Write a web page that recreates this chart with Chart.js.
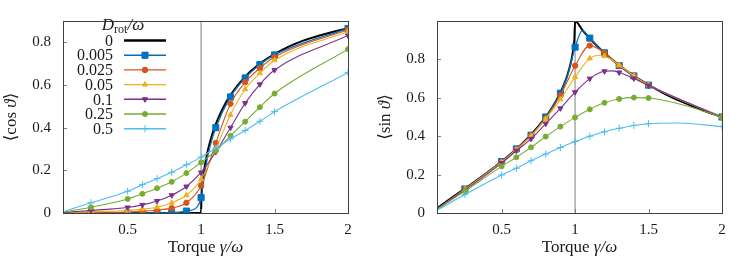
<!DOCTYPE html>
<html>
<head>
<meta charset="utf-8">
<script src="https://cdn.jsdelivr.net/npm/chart.js@4/dist/chart.umd.min.js"></script>
<style>
  html, body { margin: 0; padding: 0; background: #fff; }
  #wrap { display: flex; width: 748px; height: 262px; }
  canvas { display: block; }
</style>
</head>
<body>
<div id="wrap">
  <canvas id="cosChart" width="374" height="262"></canvas>
  <canvas id="sinChart" width="374" height="262"></canvas>
</div>
<script>
// ---------- DATA ----------
const xTicks = [0.5, 1, 1.5, 2];
const yTicks = [0, 0.2, 0.4, 0.6, 0.8];
const seriesLabels = ['0', '0.005', '0.025', '0.05', '0.1', '0.25', '0.5'];
const xStart = 0.06;
const gamma = [0.25, 0.5, 0.6, 0.7, 0.8, 0.9, 1.0, 1.1, 1.2, 1.3, 1.4, 1.5, 2.0];

// D = 0 (deterministic curve, no markers)
const gammaCos0 = [0.06, 0.5, 1.0, 1.002, 1.005, 1.01, 1.02, 1.04, 1.07, 1.1, 1.15, 1.2, 1.3, 1.4, 1.5, 1.6, 1.7, 1.8, 1.9, 2.0];
const cos0      = [0, 0, 0, 0.063, 0.10, 0.14, 0.197, 0.275, 0.356, 0.417, 0.494, 0.553, 0.639, 0.700, 0.745, 0.781, 0.809, 0.831, 0.850, 0.866];
const gammaSin0 = [0.06, 0.25, 0.4, 0.5, 0.6, 0.7, 0.8, 0.85, 0.9, 0.93, 0.95, 0.97, 0.98, 0.99, 0.995, 1.0, 1.05, 1.1, 1.15, 1.2, 1.3, 1.4, 1.5, 1.6, 1.7, 1.8, 1.9, 2.0];
const sin0      = [0.025, 0.127, 0.209, 0.268, 0.333, 0.408, 0.5, 0.557, 0.627, 0.68, 0.724, 0.78, 0.817, 0.868, 0.905, 1.0, 0.952, 0.909, 0.87, 0.833, 0.769, 0.714, 0.667, 0.625, 0.588, 0.556, 0.526, 0.5];

// <cos> at gamma points
const cosD005 = [0, 0, 0, 0, 0.001, 0.009, 0.072, 0.40, 0.544, 0.633, 0.696, 0.741, 0.865];
const cosD025 = [0.003, 0.005, 0.009, 0.014, 0.023, 0.048, 0.128, 0.328, 0.512, 0.613, 0.679, 0.731, 0.859];
const cosD05  = [0.006, 0.012, 0.018, 0.027, 0.048, 0.083, 0.158, 0.30, 0.46, 0.58, 0.655, 0.716, 0.851];
const cosD1   = [0.012, 0.026, 0.038, 0.056, 0.083, 0.124, 0.19, 0.286, 0.40, 0.515, 0.603, 0.67, 0.832];
const cosD25  = [0.027, 0.066, 0.09, 0.116, 0.146, 0.187, 0.237, 0.291, 0.362, 0.428, 0.496, 0.56, 0.768];
const cosD5   = [0.048, 0.102, 0.133, 0.161, 0.191, 0.226, 0.262, 0.304, 0.347, 0.387, 0.43, 0.475, 0.658];
const cosStart = [0, 0, 0.001, 0.002, 0.004, 0.006];
const cosExtra = [[[0.96, 0.02], [0.98, 0.035], [1.03, 0.21], [1.06, 0.31]], [], [], [], [], []];

// <sin> at gamma points
const sinD005 = [0.125, 0.268, 0.334, 0.405, 0.5, 0.624, 0.864, 0.911, 0.834, 0.768, 0.714, 0.666, 0.5];
const sinD025 = [0.124, 0.266, 0.332, 0.403, 0.493, 0.612, 0.767, 0.872, 0.834, 0.768, 0.714, 0.666, 0.5];
const sinD05  = [0.123, 0.265, 0.33, 0.40, 0.49, 0.592, 0.708, 0.805, 0.817, 0.77, 0.714, 0.666, 0.5];
const sinD1   = [0.12, 0.26, 0.324, 0.386, 0.465, 0.545, 0.629, 0.70, 0.738, 0.732, 0.701, 0.664, 0.498];
const sinD25  = [0.114, 0.243, 0.29, 0.342, 0.398, 0.45, 0.498, 0.54, 0.574, 0.594, 0.601, 0.599, 0.498];
const sinD5   = [0.096, 0.198, 0.233, 0.272, 0.307, 0.341, 0.372, 0.40, 0.423, 0.441, 0.456, 0.465, 0.45];
const sinStart = [0.02, 0.02, 0.02, 0.02, 0.018, 0.015];
const sinExtra = [[[0.95, 0.72], [1.05, 0.95]], [], [[1.15, 0.82]], [[1.25, 0.74]], [[1.75, 0.56]], [[1.7, 0.469]]];

// ---------- STYLES ----------
const styles = [
  { color: '#000000', width: 2,   point: false },
  { color: '#0072BD', width: 1.3, point: 'rect',     r: 4.3, rot: 0 },
  { color: '#D95319', width: 1.1, point: 'circle',   r: 2.7, rot: 0 },
  { color: '#EDB120', width: 1.1, point: 'triangle', r: 3.0, rot: 0 },
  { color: '#7E2F8E', width: 1.1, point: 'triangle', r: 3.0, rot: 180 },
  { color: '#77AC30', width: 1.1, point: 'circle',   r: 2.5, rot: 0 },
  { color: '#4DBEEE', width: 1.1, point: 'cross',    r: 3.5, rot: 0 }
];
const FONT = "'Liberation Serif', 'DejaVu Serif', serif";
const TXT = '#1a1a1a';

function mk(startY, vals, extras) {
  const pts = [{ x: xStart, y: startY, m: false }];
  gamma.forEach((g, i) => pts.push({ x: g, y: vals[i], m: true }));
  (extras || []).forEach(([x, y]) => pts.push({ x, y, m: false }));
  pts.sort((a, b) => a.x - b.x);
  return pts;
}
function mkPlain(xs, ys) { return xs.map((x, i) => ({ x, y: ys[i], m: false })); }

function datasets(black, series) {
  const all = [black].concat(series);
  return all.map((d, i) => {
    const s = styles[i];
    return {
      label: seriesLabels[i],
      data: d,
      borderColor: s.color,
      backgroundColor: s.color,
      borderWidth: s.width,
      pointStyle: s.point || 'circle',
      pointRotation: s.rot || 0,
      pointRadius: c => (c.raw && c.raw.m) ? s.r : 0,
      pointHoverRadius: 0,
      pointBackgroundColor: s.color,
      pointBorderColor: s.color,
      pointBorderWidth: 1,
      cubicInterpolationMode: 'monotone',
      order: 7 - i
    };
  });
}

// ---------- DECORATION PLUGIN ----------
function drawPieces(ctx, pieces, cx, cy) {
  let total = 0;
  pieces.forEach(p => { ctx.font = p.f; total += ctx.measureText(p.t).width; });
  let x = cx - total / 2;
  pieces.forEach(p => {
    ctx.font = p.f;
    ctx.fillText(p.t, x, cy + (p.dy || 0));
    x += ctx.measureText(p.t).width;
  });
}

const decor = {
  id: 'decor',
  beforeDatasetsDraw(chart) {
    const { ctx, chartArea: a, scales: { x } } = chart;
    const px = x.getPixelForValue(1);
    ctx.save();
    ctx.strokeStyle = '#aaaaaa';
    ctx.lineWidth = 1.5;
    ctx.beginPath(); ctx.moveTo(px, a.top); ctx.lineTo(px, a.bottom); ctx.stroke();
    ctx.restore();
  },
  afterDraw(chart, args, opts) {
    const { ctx, chartArea: a, scales: { x, y } } = chart;
    ctx.save();
    // inward ticks
    ctx.strokeStyle = '#808080';
    ctx.lineWidth = 1;
    xTicks.forEach(v => {
      const p = Math.round(x.getPixelForValue(v)) + 0.5;
      ctx.beginPath(); ctx.moveTo(p, a.bottom); ctx.lineTo(p, a.bottom - 4); ctx.stroke();
    });
    yTicks.forEach(v => {
      const p = Math.round(y.getPixelForValue(v)) + 0.5;
      ctx.beginPath(); ctx.moveTo(a.left, p); ctx.lineTo(a.left + 4, p); ctx.stroke();
    });
    // frame
    ctx.strokeStyle = '#404040';
    ctx.lineWidth = 1;
    ctx.strokeRect(Math.round(a.left) + 0.5, Math.round(a.top) + 0.5,
                   Math.round(a.right - a.left), Math.round(a.bottom - a.top));
    // axis titles
    ctx.fillStyle = TXT;
    ctx.textBaseline = 'alphabetic';
    ctx.textAlign = 'left';
    const cx = (a.left + a.right) / 2;
    drawPieces(ctx, [
      { t: 'Torque ', f: '17px ' + FONT },
      { t: 'γ/ω', f: 'italic 17px ' + FONT }
    ], cx, 252);
    ctx.save();
    ctx.translate(16, (a.top + a.bottom) / 2);
    ctx.rotate(-Math.PI / 2);
    drawPieces(ctx, [
      { t: '⟨', f: '17px ' + FONT },
      { t: opts.fn + ' ', f: '17px ' + FONT },
      { t: 'ϑ', f: 'italic 17px ' + FONT },
      { t: '⟩', f: '17px ' + FONT }
    ], 0, 0);
    ctx.restore();
    // legend
    if (opts.legend) {
      drawPieces(ctx, [
        { t: 'D', f: 'italic 17px ' + FONT },
        { t: 'rot', f: '12px ' + FONT, dy: 3 },
        { t: '/ω', f: 'italic 17px ' + FONT }
      ], 123, 30);
      const x0 = 124, x1 = 166, tx = 113;
      chart.data.datasets.forEach((ds, i) => {
        const yy = 40.5 + i * 14.7;
        ctx.fillStyle = TXT;
        ctx.font = '16px ' + FONT;
        ctx.textAlign = 'right';
        ctx.textBaseline = 'middle';
        ctx.fillText(ds.label, tx, yy + 1);
        const s = styles[i];
        ctx.strokeStyle = s.color;
        ctx.lineWidth = s.width + 0.3;
        ctx.beginPath(); ctx.moveTo(x0, yy); ctx.lineTo(x1, yy); ctx.stroke();
        if (s.point) {
          ctx.fillStyle = s.color;
          ctx.lineWidth = 1;
          Chart.helpers.drawPoint(ctx, { pointStyle: s.point, radius: s.r, rotation: s.rot, borderWidth: 1 }, (x0 + x1) / 2, yy);
          if (s.point !== 'cross') ctx.fill();
        }
      });
    }
    ctx.restore();
  }
};

function makeChart(id, ds, ymax, fn, legend) {
  return new Chart(document.getElementById(id), {
    type: 'line',
    data: { datasets: ds },
    plugins: [decor],
    options: {
      responsive: false,
      animation: false,
      events: [],
      layout: { padding: { top: 14, right: 26, left: 0, bottom: 0 } },
      plugins: { legend: { display: false }, tooltip: { enabled: false }, decor: { fn, legend } },
      scales: {
        x: {
          type: 'linear', min: xStart, max: 2,
          grid: { display: false, drawTicks: false },
          border: { display: false },
          afterBuildTicks: s => { s.ticks = xTicks.map(v => ({ value: v })); },
          afterFit: s => { s.height = 49; },
          ticks: { color: TXT, font: { family: FONT, size: 15 }, padding: 8, maxRotation: 0, autoSkip: false, callback: v => String(v) }
        },
        y: {
          type: 'linear', min: 0, max: ymax,
          grid: { display: false, drawTicks: false },
          border: { display: false },
          afterBuildTicks: s => { s.ticks = yTicks.map(v => ({ value: v })); },
          afterFit: s => { s.width = 63; },
          ticks: { color: TXT, font: { family: FONT, size: 15 }, padding: 12, autoSkip: false, callback: v => String(v) }
        }
      }
    }
  });
}

const cosSeries = [cosD005, cosD025, cosD05, cosD1, cosD25, cosD5].map((v, i) => mk(cosStart[i], v, cosExtra[i]));
const sinSeries = [sinD005, sinD025, sinD05, sinD1, sinD25, sinD5].map((v, i) => mk(sinStart[i], v, sinExtra[i]));

makeChart('cosChart', datasets(mkPlain(gammaCos0, cos0), cosSeries), 0.9, 'cos', true);
makeChart('sinChart', datasets(mkPlain(gammaSin0, sin0), sinSeries), 1.0, 'sin', false);
</script>
</body>
</html>
